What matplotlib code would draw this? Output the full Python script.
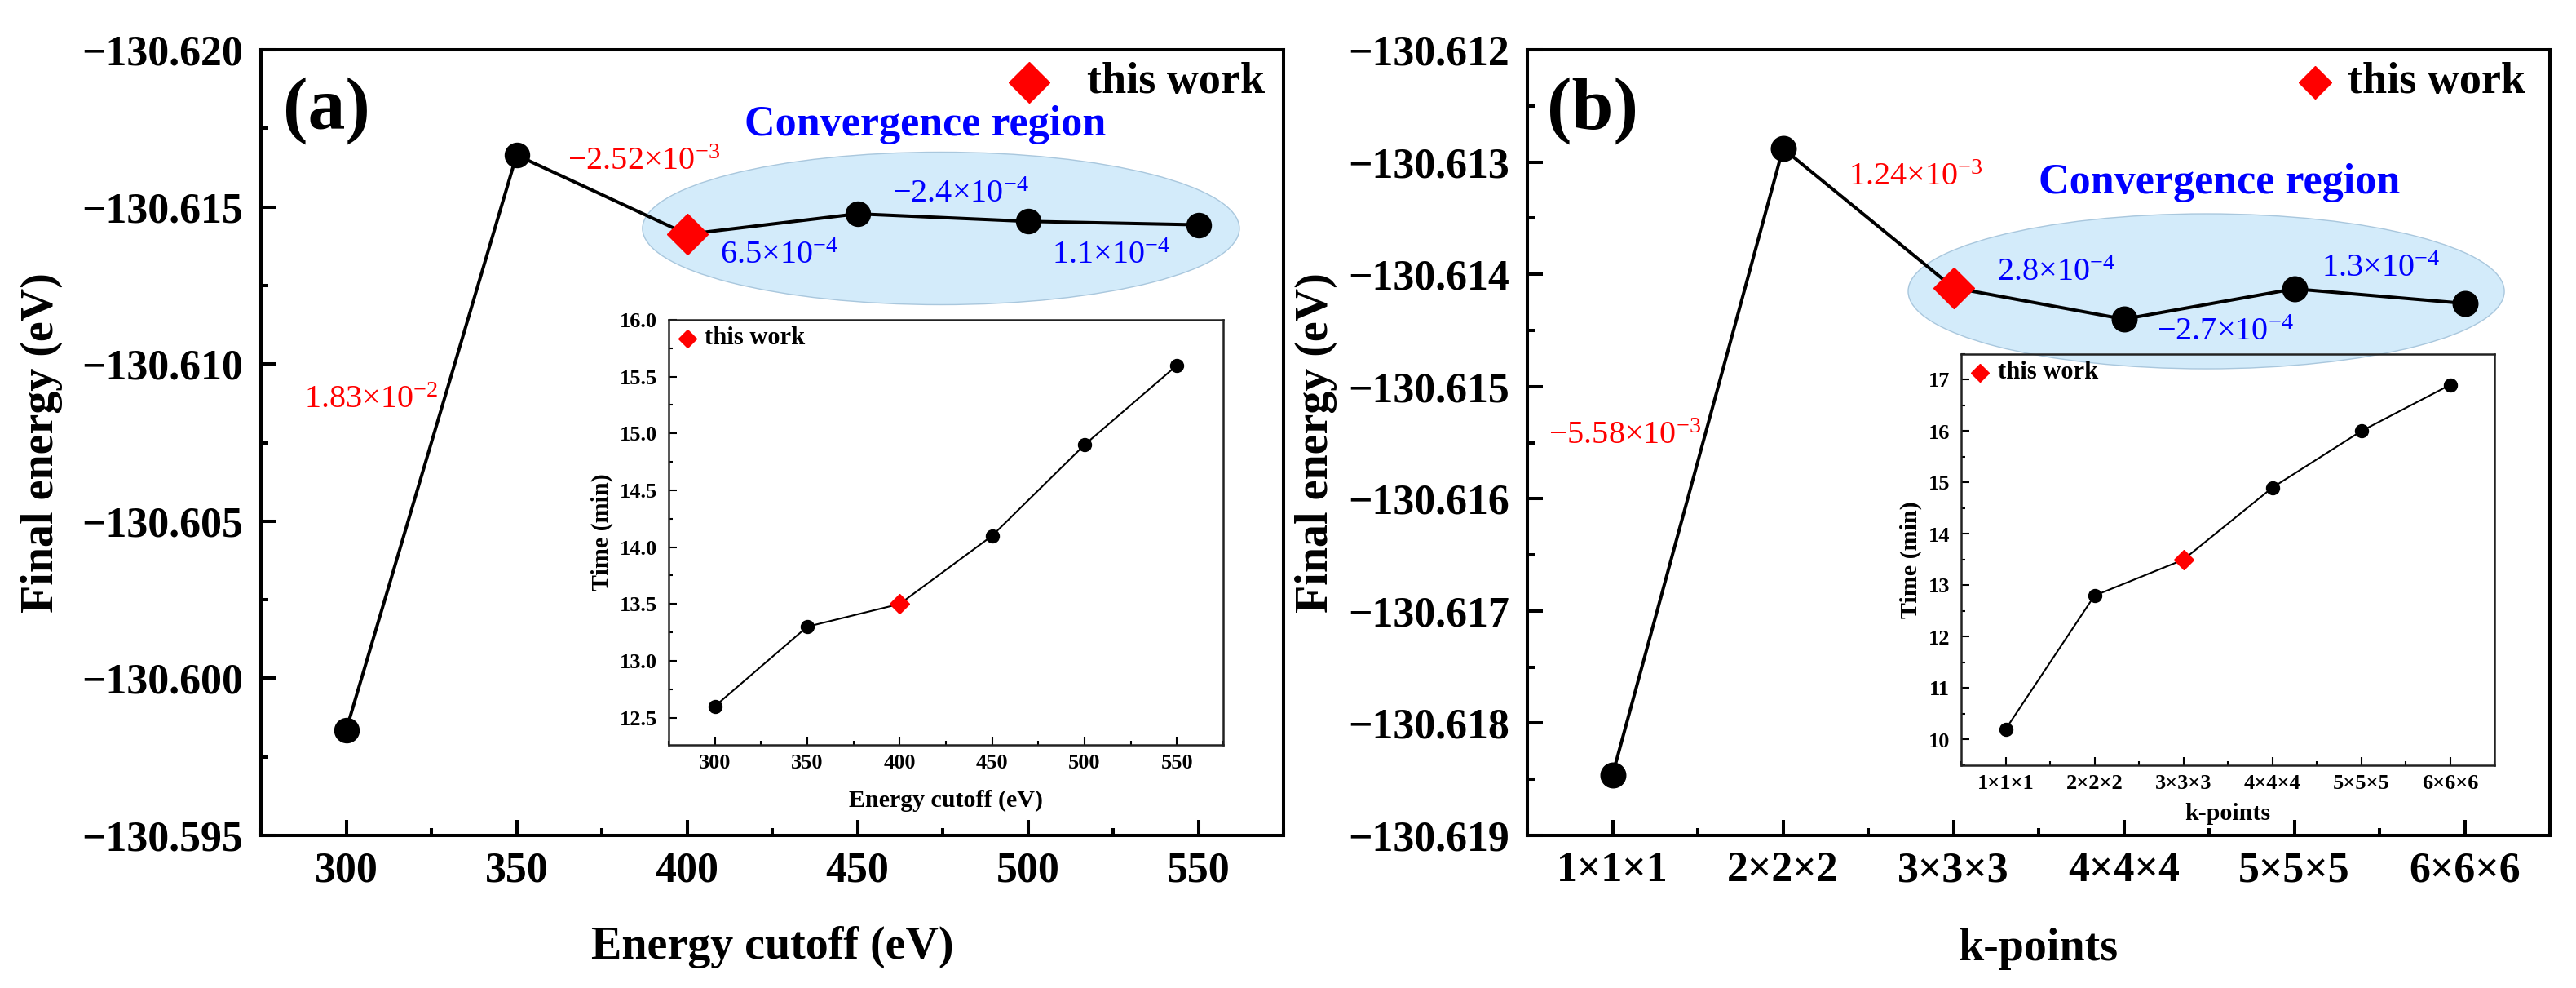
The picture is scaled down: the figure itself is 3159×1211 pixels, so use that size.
import matplotlib
matplotlib.use("Agg")
import matplotlib.pyplot as plt
from matplotlib.patches import Ellipse
from matplotlib.ticker import MultipleLocator, FuncFormatter
import numpy as np

plt.rcParams['font.family'] = ['Liberation Serif', 'DejaVu Serif']
plt.rcParams['mathtext.fontset'] = 'custom'
plt.rcParams['mathtext.rm'] = 'Liberation Serif'
plt.rcParams['mathtext.it'] = 'Liberation Serif:italic'
plt.rcParams['mathtext.bf'] = 'Liberation Serif:bold'

# ---------------- data ----------------
energy_cutoff = [300, 350, 400, 450, 500, 550]
final_energy_a = [-130.59835, -130.61665, -130.61413, -130.61478, -130.61454, -130.61443]
time_a = [12.6, 13.3, 13.5, 14.1, 14.9, 15.6]
work_index_a = 2

kpoint_labels = ['1×1×1', '2×2×2', '3×3×3', '4×4×4', '5×5×5', '6×6×6']
final_energy_b = [-130.61846, -130.61288, -130.61412, -130.61440, -130.61413, -130.61426]
time_b = [10.2, 12.8, 13.5, 14.9, 16.0, 16.9]
work_index_b = 2

diff_labels_a = ['1.83×10$^{-2}$', '\u22122.52×10$^{-3}$',
                 '6.5×10$^{-4}$', '\u22122.4×10$^{-4}$', '1.1×10$^{-4}$']
diff_labels_b = ['\u22125.58×10$^{-3}$', '1.24×10$^{-3}$',
                 '2.8×10$^{-4}$', '\u22122.7×10$^{-4}$', '1.3×10$^{-4}$']

RED = '#ff0000'
BLUE = '#0000ff'

W, H = 3159, 1211
fig = plt.figure(figsize=(W / 100, H / 100), dpi=100)


def px_axes(l, t, r, b):
    return fig.add_axes([l / W, 1 - b / H, (r - l) / W, (b - t) / H])


def style_main(ax):
    for s in ax.spines.values():
        s.set_linewidth(2.9)
        s.set_color('k')
    ax.tick_params(which='both', direction='in', top=False, right=False, colors='k')
    ax.tick_params(which='major', length=13.7, width=2.9, labelsize=37.4)
    ax.tick_params(which='minor', length=6.5, width=2.9)
    ax.tick_params(axis='y', which='major', pad=16)
    ax.tick_params(axis='x', which='major', pad=14)
    for lab in ax.get_xticklabels() + ax.get_yticklabels():
        lab.set_fontweight('bold')


def style_inset(ax):
    ax.set_facecolor('none')
    for s in ax.spines.values():
        s.set_linewidth(1.8)
        s.set_color('#222222')
    ax.tick_params(which='both', direction='in', top=False, right=False)
    ax.tick_params(which='major', length=7.2, width=1.5, labelsize=19)
    ax.tick_params(which='minor', length=3.6, width=1.5)
    ax.tick_params(axis='y', which='major', pad=10)
    ax.tick_params(axis='x', which='major', pad=8)
    for lab in ax.get_xticklabels() + ax.get_yticklabels():
        lab.set_fontweight('bold')


def minus_fmt(fmt):
    return FuncFormatter(lambda v, p: (fmt % v).replace('-', '\u2212'))


def draw_series(ax, x, y, widx, lw, ms_c, ms_d, z=3):
    x = np.asarray(x, dtype=float)
    y = np.asarray(y, dtype=float)
    mask = np.arange(len(x)) != widx
    ax.plot(x, y, '-', color='k', lw=lw, zorder=z)
    ax.plot(x[mask], y[mask], 'o', color='k', ms=ms_c, zorder=z + 1)
    ax.plot(x[widx], y[widx], 'D', color=RED, ms=ms_d, mec=RED, zorder=z + 2)


def legend_key(ax, xk, yk, xt, ms, fs):
    ax.plot([xk], [yk], 'D', color=RED, ms=ms, transform=ax.transAxes, clip_on=False)
    ax.text(xt, yk, 'this work', transform=ax.transAxes, fontsize=fs,
            fontweight='bold', ha='left', va='center')


# ================= panel (a) =================
axa = px_axes(320, 61, 1574, 1024)
axa.set_xlim(275, 575)
axa.set_ylim(-130.595, -130.620)
axa.xaxis.set_major_locator(MultipleLocator(50))
axa.xaxis.set_minor_locator(MultipleLocator(25))
axa.yaxis.set_major_locator(MultipleLocator(0.005))
axa.yaxis.set_minor_locator(MultipleLocator(0.0025))
axa.yaxis.set_major_formatter(minus_fmt('%.3f'))
axa.add_patch(Ellipse((0.665, 0.7726), 0.5837, 0.1942, transform=axa.transAxes,
                      facecolor='#d3ebfa', edgecolor='#a9c7dd', lw=1.0, zorder=1))
draw_series(axa, energy_cutoff, final_energy_a, work_index_a, 2.9, 21.6, 25)
style_main(axa)
axa.set_xlabel('Energy cutoff (eV)', fontsize=40.3, fontweight='bold')
axa.set_ylabel('Final energy (eV)', fontsize=40.3, fontweight='bold')
axa.xaxis.set_label_coords(0.5, -0.115)
axa.yaxis.set_label_coords(-0.194, 0.5)
axa.text(0.0638, 0.922, '(a)', transform=axa.transAxes, fontsize=66,
         fontweight='bold', ha='center', va='center')
legend_key(axa, 0.7512, 0.9585, 0.8078, 25, 39)
axa.text(0.650, 0.9045, 'Convergence region', transform=axa.transAxes, fontsize=37.5,
         fontweight='bold', color=BLUE, ha='center', va='center')
pos_a = [(0.1077, 0.5545, RED), (0.3748, 0.8577, RED), (0.5072, 0.7373, BLUE),
         (0.6842, 0.8152, BLUE), (0.8317, 0.7373, BLUE)]
for (fx, fy, c), s in zip(pos_a, diff_labels_a):
    axa.text(fx, fy, s, transform=axa.transAxes, fontsize=29, color=c,
             ha='center', va='center', zorder=6)

# inset (a)
ina = px_axes(820, 392, 1500, 913)
draw_series(ina, energy_cutoff, time_a, work_index_a, 1.5, 11.5, 12.7)
ina.set_xlim(275, 575)
ina.set_ylim(12.26, 16.0)
ina.xaxis.set_major_locator(MultipleLocator(50))
ina.xaxis.set_minor_locator(MultipleLocator(25))
ina.yaxis.set_major_locator(MultipleLocator(0.5))
ina.yaxis.set_minor_locator(MultipleLocator(0.25))
ina.yaxis.set_major_formatter(minus_fmt('%.1f'))
style_inset(ina)
ina.set_xlabel('Energy cutoff (eV)', fontsize=21.6, fontweight='bold')
ina.set_ylabel('Time (min)', fontsize=21.6, fontweight='bold')
ina.xaxis.set_label_coords(0.5, -0.105)
ina.yaxis.set_label_coords(-0.10, 0.5)
legend_key(ina, 0.0338, 0.9559, 0.0647, 11.5, 22)

# ================= panel (b) =================
xb = list(range(1, len(kpoint_labels) + 1))
axb = px_axes(1873, 61, 3127, 1024)
axb.set_xlim(0.5, 6.5)
axb.set_ylim(-130.619, -130.612)
axb.set_xticks(xb)
axb.set_xticklabels(kpoint_labels)
axb.xaxis.set_minor_locator(MultipleLocator(0.5))
axb.yaxis.set_major_locator(MultipleLocator(0.001))
axb.yaxis.set_minor_locator(MultipleLocator(0.0005))
axb.yaxis.set_major_formatter(minus_fmt('%.3f'))
axb.add_patch(Ellipse((0.6639, 0.6926), 0.583, 0.1973, transform=axb.transAxes,
                      facecolor='#d3ebfa', edgecolor='#a9c7dd', lw=1.0, zorder=1))
draw_series(axb, xb, final_energy_b, work_index_b, 2.9, 22, 25)
style_main(axb)
axb.set_xlabel('k-points', fontsize=40.3, fontweight='bold')
axb.set_ylabel('Final energy (eV)', fontsize=40.3, fontweight='bold')
axb.xaxis.set_label_coords(0.5, -0.117)
axb.yaxis.set_label_coords(-0.186, 0.5)
axb.text(0.0638, 0.922, '(b)', transform=axb.transAxes, fontsize=66,
         fontweight='bold', ha='center', va='center')
legend_key(axb, 0.7703, 0.9585, 0.8022, 20, 39)
axb.text(0.677, 0.8307, 'Convergence region', transform=axb.transAxes, fontsize=37.5,
         fontweight='bold', color=BLUE, ha='center', va='center')
pos_b = [(0.0957, 0.5088, RED), (0.3796, 0.837, RED), (0.5175, 0.7155, BLUE),
         (0.6826, 0.6397, BLUE), (0.8349, 0.7217, BLUE)]
for (fx, fy, c), s in zip(pos_b, diff_labels_b):
    axb.text(fx, fy, s, transform=axb.transAxes, fontsize=29, color=c,
             ha='center', va='center', zorder=6)

# inset (b)
inb = px_axes(2405, 434, 3059, 938)
draw_series(inb, xb, time_b, work_index_b, 1.5, 11.5, 12.7)
inb.set_xlim(0.5, 6.5)
inb.set_ylim(9.5, 17.5)
inb.set_xticks(xb)
inb.set_xticklabels(kpoint_labels)
inb.xaxis.set_minor_locator(MultipleLocator(0.5))
inb.yaxis.set_major_locator(MultipleLocator(1))
inb.yaxis.set_minor_locator(MultipleLocator(0.5))
style_inset(inb)
inb.set_xlabel('k-points', fontsize=21.6, fontweight='bold')
inb.set_ylabel('Time (min)', fontsize=21.6, fontweight='bold')
inb.xaxis.set_label_coords(0.5, -0.092)
inb.yaxis.set_label_coords(-0.073, 0.5)
legend_key(inb, 0.0352, 0.9544, 0.0688, 11.5, 22)

fig.savefig('out.png', dpi=100)
